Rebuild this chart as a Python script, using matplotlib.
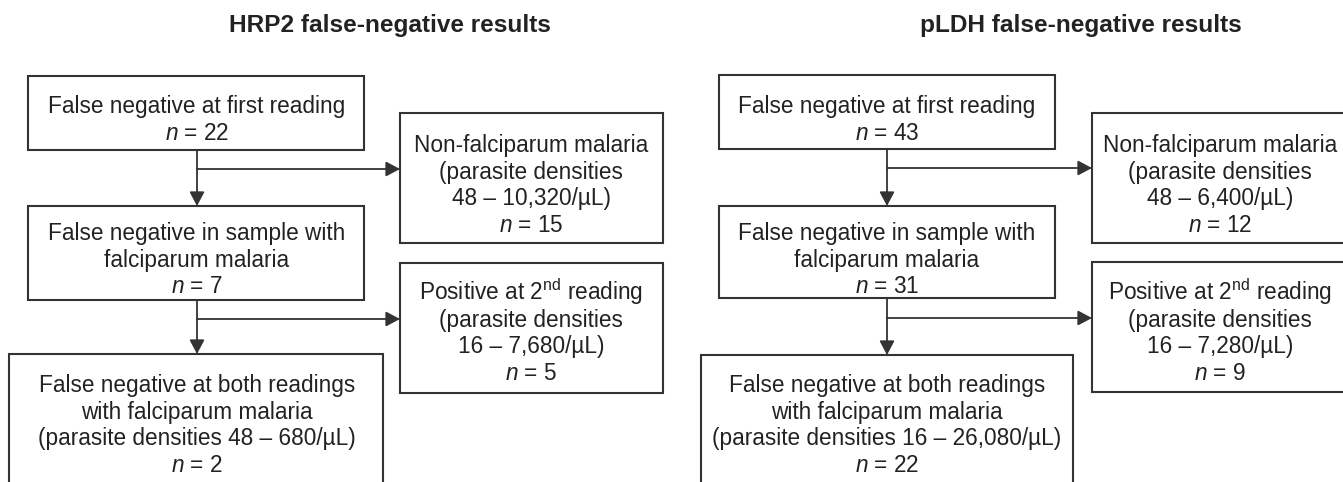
import matplotlib
matplotlib.use("Agg")
import matplotlib.pyplot as plt
from matplotlib.patches import Rectangle, FancyArrowPatch

plt.rcParams['font.family'] = ['Liberation Sans', 'DejaVu Sans']
plt.rcParams['mathtext.fontset'] = 'custom'
plt.rcParams['mathtext.rm'] = 'Liberation Sans'
plt.rcParams['mathtext.it'] = 'Liberation Sans:italic'
plt.rcParams['mathtext.bf'] = 'Liberation Sans:bold'

# ---------------- data (texts / counts) ----------------
panel_titles = ["HRP2 false-negative results", "pLDH false-negative results"]

first_reading_n = [22, 43]
falciparum_n = [7, 31]
non_falciparum_n = [15, 12]
non_falciparum_range = ["48 – 10,320/µL)", "48 – 6,400/µL)"]
positive_second_n = [5, 9]
positive_second_range = ["16 – 7,680/µL)", "16 – 7,280/µL)"]
both_readings_n = [2, 22]
both_readings_range = ["48 – 680/µL)", "16 – 26,080/µL)"]

# ---------------- layout (pixels) ----------------
W, H = 1343, 482
fig = plt.figure(figsize=(W / 100, H / 100), dpi=100)
fig.patch.set_facecolor('white')
ax = fig.add_axes([0, 0, 1, 1])
ax.set_xlim(0, W)
ax.set_ylim(H, 0)
ax.axis('off')

EDGE = '#333333'
TXT = '#222222'
FS = 16.3
LINE = 26.5

panels = [
    dict(title_x=390, trunk_x=197,
         A=(28, 76, 364, 150), B=(28, 206, 364, 300),
         C=(400, 113, 663, 243), E=(400, 263, 663, 393),
         D=(9, 354, 383, 500), Ccx=531,
         h1=169, h2=319),
    dict(title_x=1081, trunk_x=887,
         A=(719, 75, 1055, 149), B=(719, 206, 1055, 298),
         C=(1092, 113, 1350, 243), E=(1092, 262, 1350, 392),
         D=(701, 355, 1073, 500), Ccx=1220,
         h1=168, h2=318),
]


def box(r):
    x0, y0, x1, y1 = r
    ax.add_patch(Rectangle((x0, y0), x1 - x0, y1 - y0, facecolor='white',
                           edgecolor=EDGE, lw=1.5, zorder=2))


def lines(cx, y_first, texts):
    for i, t in enumerate(texts):
        ax.text(cx, y_first + i * LINE, t, ha='center', va='baseline',
                fontsize=FS, color=TXT, zorder=3)


def arrow(p0, p1):
    ax.add_patch(FancyArrowPatch(p0, p1, arrowstyle='-|>,head_length=0.85,head_width=0.45',
                                 mutation_scale=10, color=EDGE, lw=1.3,
                                 shrinkA=0, shrinkB=0, zorder=4))


for i, p in enumerate(panels):
    ax.text(p['title_x'], 32, panel_titles[i], ha='center', va='baseline',
            fontsize=17.6, fontweight='bold', color=TXT)
    for k in ('A', 'B', 'C', 'E', 'D'):
        box(p[k])
    tx = p['trunk_x']
    lines(tx, 113, ["False negative at first reading", f"$n$ = {first_reading_n[i]}"])
    lines(tx, 240, ["False negative in sample with", "falciparum malaria",
                    f"$n$ = {falciparum_n[i]}"])
    lines(p['Ccx'], 152, ["Non-falciparum malaria", "(parasite densities",
                          non_falciparum_range[i], f"$n$ = {non_falciparum_n[i]}"])
    lines(p['Ccx'], 300, [r"Positive at 2$^{\mathrm{nd}}$ reading", "(parasite densities",
                          positive_second_range[i], f"$n$ = {positive_second_n[i]}"])
    lines(tx, 392, ["False negative at both readings", "with falciparum malaria",
                    f"(parasite densities {both_readings_range[i]}",
                    f"$n$ = {both_readings_n[i]}"])
    # arrows
    arrow((tx, p['A'][3]), (tx, p['B'][1]))
    arrow((tx, p['h1']), (p['C'][0], p['h1']))
    arrow((tx, p['B'][3]), (tx, p['D'][1]))
    arrow((tx, p['h2']), (p['E'][0], p['h2']))

fig.savefig('out.png', dpi=100, facecolor='white')
